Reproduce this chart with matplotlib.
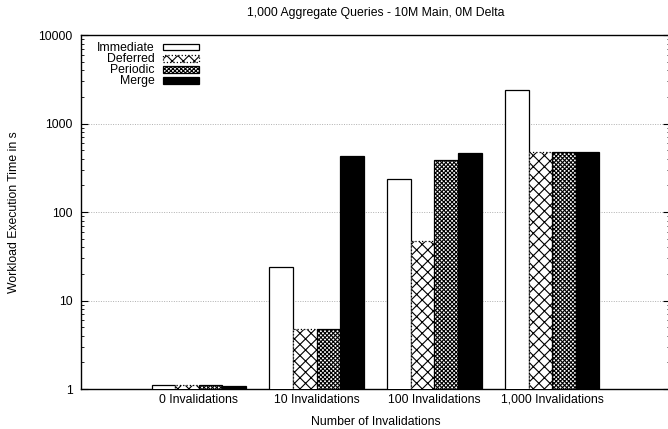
import numpy as np
import matplotlib.pyplot as plt
from matplotlib.ticker import FixedLocator, LogLocator, NullFormatter

plt.rcParams["font.family"] = ["Liberation Sans", "DejaVu Sans"]
plt.rcParams["hatch.linewidth"] = 0.8

groups = ["0 Invalidations", "10 Invalidations", "100 Invalidations", "1,000 Invalidations"]
series = ["Immediate", "Deferred", "Periodic", "Merge"]
immediate = [1.1, 23.7, 236, 2370]
deferred = [1.1, 4.76, 47, 480]
periodic = [1.1, 4.76, 384, 480]
merge = [1.08, 433, 468, 480]
values = [immediate, deferred, periodic, merge]

styles = [
    dict(facecolor="white", hatch=None, linestyle="-"),
    dict(facecolor="white", hatch="xxx", linestyle=":"),
    dict(facecolor="white", hatch="xxxxxxxx", linestyle="-"),
    dict(facecolor="black", hatch=None, linestyle="-"),
]

fig = plt.figure(figsize=(6.68, 4.29), dpi=100)
ax = fig.add_axes([81 / 668, 1 - 389 / 429, (670 - 81) / 668, (389 - 35) / 429])

x = np.arange(len(groups))
width = 0.2
for i, (name, vals, st) in enumerate(zip(series, values, styles)):
    ax.bar(x + (i - 1.5) * width, vals, width, bottom=0, label=name,
           facecolor=st["facecolor"], edgecolor="black", hatch=st["hatch"],
           linewidth=0.9, linestyle=st["linestyle"], zorder=3)

ax.set_yscale("log")
ax.set_ylim(1, 10000)
ax.set_xlim(-1, 4)
ax.yaxis.set_major_locator(FixedLocator([1, 10, 100, 1000, 10000]))
ax.set_yticklabels(["1", "10", "100", "1000", "10000"])
ax.yaxis.set_minor_locator(LogLocator(base=10, subs=np.arange(2, 10)))
ax.yaxis.set_minor_formatter(NullFormatter())
ax.tick_params(axis="y", which="major", direction="in", length=5, width=0.8,
               right=True, labelsize=8.8, pad=6)
ax.tick_params(axis="y", which="minor", direction="in", length=2.5, width=0.6, right=True)
ax.set_xticks(x)
ax.set_xticklabels(groups, va="baseline")
ax.tick_params(axis="x", length=0, labelsize=8.8, pad=10)

ax.grid(True, axis="y", which="major", linestyle=(0, (1, 1.5)), color="#b0b0b0",
        linewidth=0.7, zorder=0)
for sp in ax.spines.values():
    sp.set_linewidth(1.0)

ax.set_xlabel("Number of Invalidations", fontsize=8.8, labelpad=7)
ax.set_ylabel("Workload Execution Time in s", fontsize=8.8, labelpad=13)
ax.set_title("1,000 Aggregate Queries - 10M Main, 0M Delta", fontsize=8.8, pad=14)

leg = ax.legend(loc="upper left", bbox_to_anchor=(0.015, 1.0), frameon=False,
                markerfirst=False, fontsize=8.8, handlelength=2.9, handleheight=0.5,
                labelspacing=-0.08, handletextpad=0.7, borderaxespad=0.2)
for t in leg.get_texts():
    t.set_ha("right")

fig.savefig("out.png", dpi=100)
